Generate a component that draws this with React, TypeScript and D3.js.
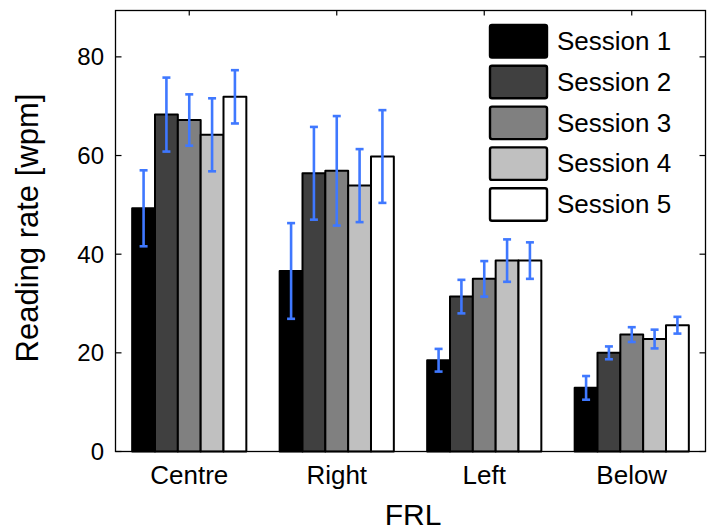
import * as d3 from "d3";

// data
const categories = ["Centre", "Right", "Left", "Below"];
const sessions = ["Session 1", "Session 2", "Session 3", "Session 4", "Session 5"];
const session1 = [49.3, 36.6, 18.5, 12.9];
const session2 = [68.3, 56.4, 31.4, 20.0];
const session3 = [67.2, 56.9, 35.0, 23.7];
const session4 = [64.2, 53.9, 38.7, 22.8];
const session5 = [71.9, 59.8, 38.7, 25.6];
const err1 = [7.7, 9.7, 2.3, 2.4];
const err2 = [7.5, 9.4, 3.4, 1.3];
const err3 = [5.2, 11.1, 3.6, 1.5];
const err4 = [7.4, 7.4, 4.3, 1.9];
const err5 = [5.4, 9.4, 3.7, 1.7];
const yTicks = [0, 20, 40, 60, 80];

const values = [session1, session2, session3, session4, session5];
const errors = [err1, err2, err3, err4, err5];
const fills = ["#000000", "#404040", "#808080", "#c0c0c0", "#ffffff"];
const errColor = "#3f78ff";
const font = "'Liberation Sans', Arial, Helvetica, sans-serif";

const W = 711, H = 531;
const left = 115.5, right = 705.5, top = 10.5, bottom = 451.5;

export default function App() {
  const x = d3.scaleLinear().domain([0.5, 4.5]).range([left, right]);
  const y = d3.scaleLinear().domain([0, 89.4]).range([bottom, top]);
  const groupWidth = 0.774;
  const inner = d3.scaleBand<number>()
    .domain(d3.range(sessions.length))
    .range([-groupWidth / 2, groupWidth / 2])
    .padding(0);
  const bw = x(inner.bandwidth()) - x(0);
  const cap = 4;

  return (
    <svg width={W} height={H} style={{ position: "absolute", left: 0, top: 0 }} fontFamily={font}>
      <rect x={0} y={0} width={W} height={H} fill="#fff" />
      {/* bars */}
      {categories.map((c, ci) => (
        <g key={c}>
          {values.map((s, si) => {
            const x0 = x(ci + 1 + inner(si)!);
            return (
              <rect key={si} x={x0} y={y(s[ci])} width={bw} height={y(0) - y(s[ci])}
                fill={fills[si]} stroke="#000" strokeWidth={2} strokeLinejoin="round" />
            );
          })}
        </g>
      ))}
      {/* error bars */}
      {categories.map((c, ci) => (
        <g key={c + "err"} stroke={errColor} strokeWidth={2.6}>
          {values.map((s, si) => {
            const cx = x(ci + 1 + inner(si)!) + bw / 2;
            const hi = y(s[ci] + errors[si][ci]);
            const lo = y(s[ci] - errors[si][ci]);
            return (
              <g key={si}>
                <line x1={cx} x2={cx} y1={hi} y2={lo} />
                <line x1={cx - cap} x2={cx + cap} y1={hi} y2={hi} />
                <line x1={cx - cap} x2={cx + cap} y1={lo} y2={lo} />
              </g>
            );
          })}
        </g>
      ))}
      {/* axes box */}
      <rect x={left} y={top} width={right - left} height={bottom - top} fill="none" stroke="#000" strokeWidth={1.3} />
      {yTicks.map(t => (
        <g key={t}>
          <line x1={left} x2={left + 6} y1={y(t)} y2={y(t)} stroke="#000" strokeWidth={1.2} />
          <line x1={right - 6} x2={right} y1={y(t)} y2={y(t)} stroke="#000" strokeWidth={1.2} />
          <text x={104} y={y(t) + 8.5} textAnchor="end" fontSize={24}>{t}</text>
        </g>
      ))}
      {categories.map((c, ci) => (
        <g key={c + "tick"}>
          <line x1={x(ci + 1)} x2={x(ci + 1)} y1={top} y2={top + 5} stroke="#000" strokeWidth={1.2} />
          <text x={x(ci + 1)} y={484} textAnchor="middle" fontSize={26}>{c}</text>
        </g>
      ))}
      {/* axis titles */}
      <text x={413} y={525} textAnchor="middle" fontSize={30}>FRL</text>
      <text transform={`translate(38,228) rotate(-90)`} textAnchor="middle" fontSize={31}>Reading rate [wpm]</text>
      {/* legend */}
      {sessions.map((s, si) => {
        const ly = 25 + si * 40.8;
        return (
          <g key={s}>
            <rect x={490} y={ly} width={57} height={32.5} rx={2} fill={fills[si]} stroke="#000" strokeWidth={2.4} />
            <text x={557} y={ly + 25} fontSize={26}>{s}</text>
          </g>
        );
      })}
    </svg>
  );
}
